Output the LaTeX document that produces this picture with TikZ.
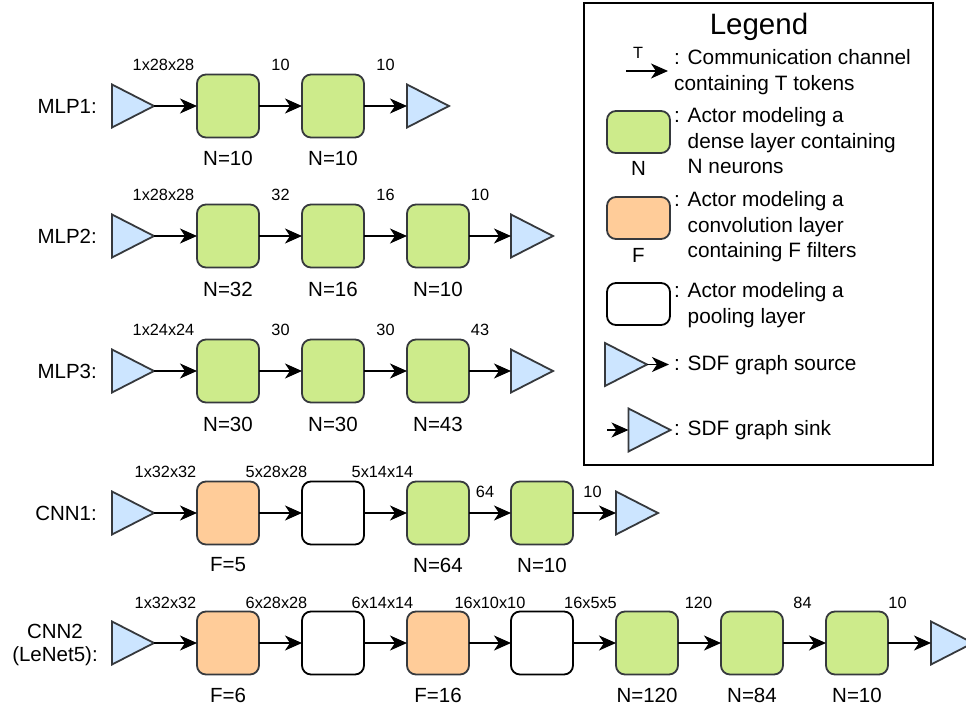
\documentclass[tikz,border=0pt]{standalone}
\usepackage{fontspec}
\setmainfont{Liberation Sans}
\usetikzlibrary{arrows.meta}

\definecolor{denseFill}{HTML}{CDEB8B}
\definecolor{convFill}{HTML}{FFCC99}
\definecolor{ioFill}{HTML}{CCE5FF}
\definecolor{darkStroke}{HTML}{36393D}

\tikzset{
  actor/.style={draw=darkStroke, line width=1.8pt, rounded corners=9pt,
    minimum width=62pt, minimum height=63pt, inner sep=0pt, outer sep=0pt},
  dense/.style={actor, fill=denseFill},
  conv/.style={actor, fill=convFill},
  pool/.style={actor, draw=black, fill=white},
  edge/.style={-{Stealth[length=17pt,width=15pt,inset=5pt]}, line width=1.8pt},
  elab/.style={font=\fontsize{16.3}{19}\selectfont, inner sep=0pt},
  nlab/.style={font=\fontsize{20.5}{24}\selectfont, inner sep=0pt},
  rowlab/.style={font=\fontsize{20.5}{23}\selectfont, inner sep=0pt, anchor=east, align=center},
  ltext/.style={font=\fontsize{20.8}{25.5}\selectfont, inner sep=0pt, anchor=west, align=left},
  ioport/.pic={
    \draw[draw=darkStroke, fill=ioFill, line width=1.8pt, line join=miter]
      (-21,-21.5) -- (21,0) -- (-21,21.5) -- cycle;
    \coordinate (-tip) at (21,0);
    \coordinate (-base) at (-21,0);
  },
}

\begin{document}
\begin{tikzpicture}[x=1pt,y=-1pt]
\useasboundingbox (0,0) rectangle (966,711);

% ---------------- MLP1 ----------------
\node[rowlab] (r1) at (97,106) {MLP1:};
\pic (i1) at (133,106) {ioport};
\node[dense] (a11) at (228,106) {};
\node[dense] (a12) at (333,106) {};
\pic (o1) at (428,106) {ioport};
\draw[edge] (i1-tip) -- (a11) node[elab, midway, yshift=41pt, xshift=-12pt] {1x28x28};
\draw[edge] (a11) -- (a12) node[elab, midway, yshift=41pt] {10};
\draw[edge] (a12) -- (o1-base) node[elab, midway, yshift=41pt] {10};
\node[nlab] (n11) at (228,158) {N=10};
\node[nlab] (n12) at (333,158) {N=10};

% ---------------- MLP2 ----------------
\node[rowlab] (r2) at (97,236) {MLP2:};
\pic (i2) at (133,236) {ioport};
\node[dense] (a21) at (228,236) {};
\node[dense] (a22) at (333,236) {};
\node[dense] (a23) at (438,236) {};
\pic (o2) at (532,236) {ioport};
\draw[edge] (i2-tip) -- (a21) node[elab, midway, yshift=41pt, xshift=-12pt] {1x28x28};
\draw[edge] (a21) -- (a22) node[elab, midway, yshift=41pt] {32};
\draw[edge] (a22) -- (a23) node[elab, midway, yshift=41pt] {16};
\draw[edge] (a23) -- (o2-base) node[elab, midway, yshift=41pt, xshift=-10pt] {10};
\node[nlab] (n21) at (228,289) {N=32};
\node[nlab] (n22) at (333,289) {N=16};
\node[nlab] (n23) at (438,289) {N=10};

% ---------------- MLP3 ----------------
\node[rowlab] (r3) at (97,371) {MLP3:};
\pic (i3) at (133,371) {ioport};
\node[dense] (a31) at (228,371) {};
\node[dense] (a32) at (333,371) {};
\node[dense] (a33) at (438,371) {};
\pic (o3) at (532,371) {ioport};
\draw[edge] (i3-tip) -- (a31) node[elab, midway, yshift=41pt, xshift=-12pt] {1x24x24};
\draw[edge] (a31) -- (a32) node[elab, midway, yshift=41pt] {30};
\draw[edge] (a32) -- (a33) node[elab, midway, yshift=41pt] {30};
\draw[edge] (a33) -- (o3-base) node[elab, midway, yshift=41pt, xshift=-10pt] {43};
\node[nlab] (n31) at (228,424) {N=30};
\node[nlab] (n32) at (333,424) {N=30};
\node[nlab] (n33) at (438,424) {N=43};

% ---------------- CNN1 ----------------
\node[rowlab] (r4) at (97,513) {CNN1:};
\pic (i4) at (133,513) {ioport};
\node[conv] (a41) at (228,513) {};
\node[pool] (a42) at (333,513) {};
\node[dense] (a43) at (438,513) {};
\node[dense] (a44) at (542,513) {};
\pic (o4) at (637,513) {ioport};
\draw[edge] (i4-tip) -- (a41) node[elab, midway, yshift=41pt, xshift=-10pt] {1x32x32};
\draw[edge] (a41) -- (a42) node[elab, midway, yshift=41pt, xshift=-4pt] {5x28x28};
\draw[edge] (a42) -- (a43) node[elab, midway, yshift=41pt, xshift=-3pt] {5x14x14};
\draw[edge] (a43) -- (a44) node[elab, midway, yshift=21pt, xshift=-5pt] {64};
\draw[edge] (a44) -- (o4-base) node[elab, midway, yshift=21pt, xshift=-2pt] {10};
\node[nlab] (n41) at (228,565) {F=5};
\node[nlab] (n43) at (438,565) {N=64};
\node[nlab] (n44) at (542,565) {N=10};

% ---------------- CNN2 (LeNet5) ----------------
\node[rowlab, anchor=center] (r5) at (55,645) {CNN2\\(LeNet5):};
\pic (i5) at (133,643) {ioport};
\node[conv] (a51) at (228,643) {};
\node[pool] (a52) at (333,643) {};
\node[conv] (a53) at (438,643) {};
\node[pool] (a54) at (542,643) {};
\node[dense] (a55) at (647,643) {};
\node[dense] (a56) at (752,643) {};
\node[dense] (a57) at (857,643) {};
\pic (o5) at (952,643) {ioport};
\draw[edge] (i5-tip) -- (a51) node[elab, midway, yshift=40pt, xshift=-10pt] {1x32x32};
\draw[edge] (a51) -- (a52) node[elab, midway, yshift=40pt, xshift=-4pt] {6x28x28};
\draw[edge] (a52) -- (a53) node[elab, midway, yshift=40pt, xshift=-3pt] {6x14x14};
\draw[edge] (a53) -- (a54) node[elab, midway, yshift=40pt] {16x10x10};
\draw[edge] (a54) -- (a55) node[elab, midway, yshift=40pt, xshift=-4pt] {16x5x5};
\draw[edge] (a55) -- (a56) node[elab, midway, yshift=40pt, xshift=-1pt] {120};
\draw[edge] (a56) -- (a57) node[elab, midway, yshift=40pt, xshift=-2pt] {84};
\draw[edge] (a57) -- (o5-base) node[elab, midway, yshift=40pt, xshift=-12pt] {10};
\node[nlab] (n51) at (228,695) {F=6};
\node[nlab] (n53) at (438,695) {F=16};
\node[nlab] (n55) at (647,695) {N=120};
\node[nlab] (n56) at (752,695) {N=84};
\node[nlab] (n57) at (857,695) {N=10};

% ---------------- Legend ----------------
\draw[line width=1.8pt] (584,3) rectangle (933,465);
\node[font=\fontsize{29.5}{34}\selectfont, inner sep=0pt] (legtitle) at (759,27) {Legend};

\coordinate (chA) at (626,71);
\coordinate (chB) at (668,71);
\draw[edge] (chA) -- (chB) node[elab, midway, yshift=18pt, xshift=-9pt] {T};
\node[ltext] (tch) at (674,72) {: Communication channel\\containing T tokens};

\node[dense, minimum width=63pt, minimum height=42pt] (lgDense) at (638.5,132) {};
\node[nlab] (lgN) at (638.5,168) {N};
\node[ltext] (tdense) at (674,141) {: Actor modeling a\\\hphantom{: }dense layer containing\\\hphantom{: }N neurons};

\node[conv, minimum width=63pt, minimum height=42pt] (lgConv) at (638.5,218) {};
\node[nlab] (lgF) at (638.5,255) {F};
\node[ltext] (tconv) at (674,227) {: Actor modeling a\\\hphantom{: }convolution layer\\\hphantom{: }containing F filters};

\node[pool, minimum width=63pt, minimum height=42pt] (lgPool) at (638.5,304) {};
\node[ltext] (tpool) at (674,305) {: Actor modeling a\\\hphantom{: }pooling layer};

\pic (lgSrc) at (626,364.5) {ioport};
\coordinate (srcEnd) at (669,364.5);
\draw[edge] (lgSrc-tip) -- (srcEnd);
\node[ltext] (tsrc) at (674,365) {: SDF graph source};

\coordinate (snkStart) at (607,430);
\pic (lgSnk) at (649.5,430) {ioport};
\draw[edge] (snkStart) -- (lgSnk-base);
\node[ltext] (tsnk) at (674,430) {: SDF graph sink};

\end{tikzpicture}
\end{document}
